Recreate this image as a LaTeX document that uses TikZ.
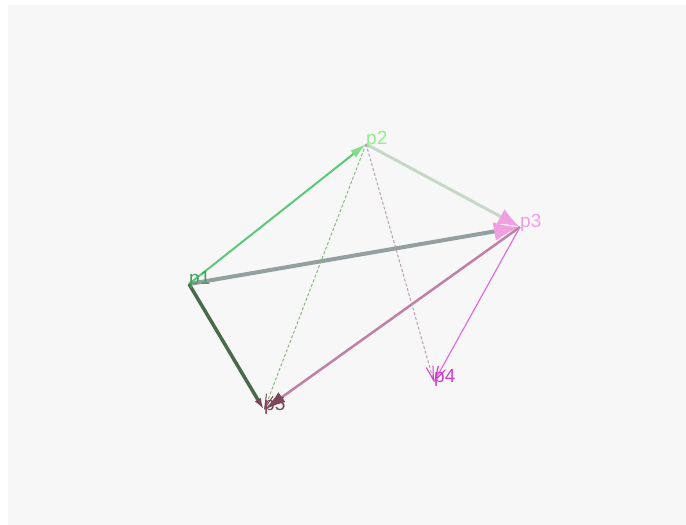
\documentclass[tikz,border=0pt]{standalone}
\usepackage{fontspec}
\setmainfont{Liberation Sans}
\usetikzlibrary{arrows.meta}

\definecolor{pone}{HTML}{40A060}
\definecolor{ptwo}{HTML}{90EE90}
\definecolor{pthree}{HTML}{F0A0E0}
\definecolor{pfour}{HTML}{D040C8}
\definecolor{pfive}{HTML}{7A4858}
\definecolor{bgcol}{HTML}{F7F7F7}

\begin{document}
\begin{tikzpicture}[
    x=1pt, y=-1pt,
    lbl/.style={anchor=base west, inner sep=0pt, font=\fontsize{19}{21}\selectfont},
    link/.style={line cap=butt},
    thinlink/.style={link, line width=1pt, dash pattern=on 3pt off 2pt}
]

% Canvas
\useasboundingbox (0,0) rectangle (686,525);
\fill[bgcol] (8,5) rectangle (686,525);

% Points
\coordinate (p1) at (189,284);
\coordinate (p2) at (366,144);
\coordinate (p3) at (520,227);
\coordinate (p4) at (434,382);
\coordinate (p5) at (264,410);

% Links
\draw[link, line width=3pt, color={rgb,255:red,200;green,216;blue,200}, -{Latex[length=22pt,width=17pt,color=pthree]}] (p2) -- (p3);
\draw[link, line width=4pt, color={rgb,255:red,148;green,160;blue,160}, -{Latex[length=26pt,width=19pt,color=pthree]}] (p1) -- (p3);
\draw[link, line width=2pt, color={rgb,255:red,92;green,200;blue,122}, -{Latex[length=16pt,width=9pt,color=ptwo!80!pone]}] (p1) -- (p2);
\draw[link, line width=3.5pt, color={rgb,255:red,74;green,106;blue,74}, -{Latex[length=12pt,width=7pt,color=pfive]}] (p1) -- (p5);
\draw[link, line width=2.5pt, color={rgb,255:red,192;green,128;blue,168}, -{Latex[length=22pt,width=12pt,color=pfive]}] (p3) -- (p5);
\draw[link, line width=1.2pt, color={rgb,255:red,224;green,112;blue,216}, -{Straight Barb[length=14pt,width=8pt,color=pfour]}] (p3) -- (p4);
\draw[thinlink, color={rgb,255:red,184;green,160;blue,168}, -{Straight Barb[length=14pt,width=7pt,color=pfour]}] (p2) -- (p4);
\draw[thinlink, color={rgb,255:red,136;green,184;blue,128}, -{Straight Barb[length=14pt,width=7pt,color=pfive]}] (p2) -- (p5);

% Labels
\node[lbl, text=pone] (l1) at (p1) {p1};
\node[lbl, text=ptwo] (l2) at (p2) {p2};
\node[lbl, text=pthree] (l3) at (p3) {p3};
\node[lbl, text=pfour] (l4) at (p4) {p4};
\node[lbl, text=pfive] (l5) at (p5) {p5};

\end{tikzpicture}
\end{document}
